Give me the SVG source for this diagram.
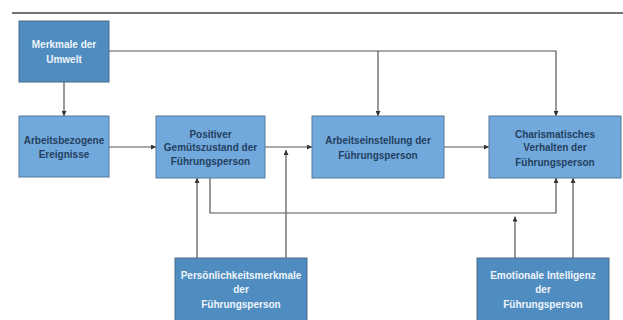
<svg xmlns="http://www.w3.org/2000/svg" width="623" height="320" viewBox="0 0 623 320">
<defs>
<style>
.dark{fill:#4f8dc1;stroke:#4a6a88;stroke-width:1}
.light{fill:#72a9dc;stroke:#56799a;stroke-width:1}
.tw{font-family:"Liberation Sans",Arial,sans-serif;font-size:10px;font-weight:bold;fill:#eef4fa;text-anchor:middle}
.td{font-family:"Liberation Sans",Arial,sans-serif;font-size:10px;font-weight:bold;fill:#23405f;text-anchor:middle}
.c{fill:none;stroke:#555;stroke-width:1.2}
</style>
<marker id="a" markerWidth="5" markerHeight="5" refX="5" refY="2.5" orient="auto" markerUnits="userSpaceOnUse">
<path d="M0,0 L5,2.5 L0,5 z" fill="#333"/>
</marker>
</defs>
<rect width="623" height="320" fill="#fff"/>
<line x1="12" y1="13" x2="623" y2="13" stroke="#444" stroke-width="1.3"/>
<g id="connectors">
<path class="c" d="M64,82 V116" marker-end="url(#a)"/>
<path class="c" d="M109,51 H556 V116" marker-end="url(#a)"/>
<path class="c" d="M378,51 V116" marker-end="url(#a)"/>
<path class="c" d="M109,147 H156" marker-end="url(#a)"/>
<path class="c" d="M265,147 H312" marker-end="url(#a)"/>
<path class="c" d="M444,147 H489" marker-end="url(#a)"/>
<path class="c" d="M197,258 V178" marker-end="url(#a)"/>
<path class="c" d="M286,258 V150" marker-end="url(#a)"/>
<path class="c" d="M210,178 V213 H556 V178" marker-end="url(#a)"/>
<path class="c" d="M515,258 V216.5" marker-end="url(#a)"/>
<path class="c" d="M573,258 V178" marker-end="url(#a)"/>
</g>
<g id="merkmale-umwelt">
<rect class="dark" x="19" y="21" width="90" height="61"/>
<text class="tw" x="64" y="48">Merkmale der</text>
<text class="tw" x="64" y="62.5">Umwelt</text>
</g>
<g id="arbeitsbezogene-ereignisse">
<rect class="light" x="19" y="116" width="90" height="61"/>
<text class="td" x="64" y="143.5">Arbeitsbezogene</text>
<text class="td" x="64" y="158">Ereignisse</text>
</g>
<g id="positiver-gemuetszustand">
<rect class="light" x="156" y="116" width="109" height="62"/>
<text class="td" x="210.5" y="137.5">Positiver</text>
<text class="td" x="210.5" y="151">Gemütszustand der</text>
<text class="td" x="210.5" y="165">Führungsperson</text>
</g>
<g id="arbeitseinstellung">
<rect class="light" x="312" y="116" width="132" height="62"/>
<text class="td" x="378" y="144">Arbeitseinstellung der</text>
<text class="td" x="378" y="158.5">Führungsperson</text>
</g>
<g id="charismatisches-verhalten">
<rect class="light" x="489" y="116" width="132" height="62"/>
<text class="td" x="555" y="137.5">Charismatisches</text>
<text class="td" x="555" y="151">Verhalten der</text>
<text class="td" x="555" y="165.5">Führungsperson</text>
</g>
<g id="persoenlichkeitsmerkmale">
<rect class="dark" x="175" y="258" width="132" height="70"/>
<text class="tw" x="241" y="279">Persönlichkeitsmerkmale</text>
<text class="tw" x="241" y="293">der</text>
<text class="tw" x="241" y="307.5">Führungsperson</text>
</g>
<g id="emotionale-intelligenz">
<rect class="dark" x="477" y="258" width="132" height="70"/>
<text class="tw" x="543" y="279">Emotionale Intelligenz</text>
<text class="tw" x="543" y="293">der</text>
<text class="tw" x="543" y="307.5">Führungsperson</text>
</g>
</svg>
